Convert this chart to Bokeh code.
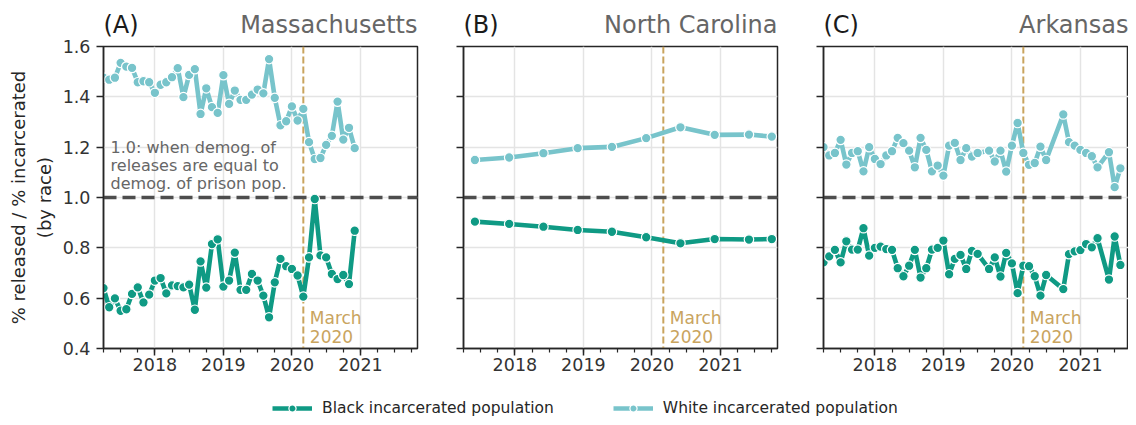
import numpy as np
import pandas as pd
from bokeh.plotting import figure
from bokeh.models import (Range1d, FixedTicker, Span, Label, Legend, LegendItem,
                          PrintfTickFormatter, CustomJSTickFormatter)
from bokeh.layouts import column, row
from bokeh.embed import file_html
from bokeh.resources import INLINE

FONT = "DejaVu Sans"
COL_BLACK = "#0f9a84"
COL_WHITE = "#78c4cb"
COL_TAN = "#c9a45e"
COL_REF = "#4d4d4d"
COL_AX = "#262626"

# ---------------- data ----------------
x_tick_years = [2018, 2019, 2020, 2021]
y_ticks = [0.4, 0.6, 0.8, 1.0, 1.2, 1.4, 1.6]
x_start, x_end = "2017-04-01", "2021-11-01"
march_2020 = "2020-03-01"
series_names = ["Black incarcerated population", "White incarcerated population"]
panel_letters = ["(A)", "(B)", "(C)"]
states = ["Massachusetts", "North Carolina", "Arkansas"]
note_lines = ["1.0: when demog. of", "releases are equal to", "demog. of prison pop."]
march_lines = ["March", "2020"]

# Massachusetts (monthly, Apr 2017 - Dec 2020)
ma_months = pd.date_range("2017-04-01", "2020-12-01", freq="MS")
ma_white = [1.476, 1.468, 1.476, 1.535, 1.520, 1.515, 1.458, 1.462, 1.458, 1.416,
            1.448, 1.458, 1.478, 1.514, 1.399, 1.487, 1.510, 1.332, 1.434, 1.359,
            1.336, 1.486, 1.372, 1.425, 1.388, 1.388, 1.409, 1.429, 1.414, 1.550,
            1.396, 1.287, 1.303, 1.362, 1.306, 1.352, 1.220, 1.153, 1.157, 1.209,
            1.245, 1.381, 1.230, 1.277, 1.196]
ma_black = [0.640, 0.564, 0.599, 0.550, 0.556, 0.617, 0.643, 0.583, 0.614, 0.670,
            0.680, 0.619, 0.651, 0.648, 0.643, 0.654, 0.554, 0.746, 0.642, 0.815,
            0.834, 0.646, 0.670, 0.781, 0.633, 0.633, 0.696, 0.670, 0.610, 0.524,
            0.663, 0.756, 0.727, 0.716, 0.690, 0.606, 0.762, 0.994, 0.770, 0.762,
            0.696, 0.676, 0.692, 0.656, 0.868]

# North Carolina (semi-annual)
nc_months = ["2017-06-01", "2017-12-01", "2018-06-01", "2018-12-01", "2019-06-01",
             "2019-12-01", "2020-06-01", "2020-12-01", "2021-06-01", "2021-10-01"]
nc_white = [1.149, 1.159, 1.176, 1.196, 1.201, 1.236, 1.279, 1.249, 1.250, 1.242]
nc_black = [0.904, 0.895, 0.884, 0.871, 0.864, 0.842, 0.818, 0.835, 0.833, 0.835]

# Arkansas (monthly, Apr 2017 - Aug 2021, some months missing)
ar_months = pd.date_range("2017-04-01", "2021-08-01", freq="MS")
ar_white = [1.200, 1.167, 1.177, 1.229, 1.131, 1.177, 1.184, 1.104, 1.200, 1.153,
            1.133, 1.167, 1.184, 1.237, 1.216, 1.186, 1.120, 1.237, 1.189, 1.104,
            1.127, 1.087, 1.206, 1.217, 1.149, 1.196, 1.163, 1.177, None, 1.186,
            1.143, 1.186, 1.103, 1.206, 1.296, 1.177, 1.130, 1.137, 1.202, 1.149,
            None, None, 1.330, 1.220, 1.206, 1.189, 1.177, 1.164, 1.120, None,
            1.180, 1.041, 1.116]
ar_black = [0.742, 0.766, 0.792, 0.742, 0.826, 0.793, 0.793, 0.878, 0.769, 0.800,
            0.805, 0.795, 0.792, 0.719, 0.687, 0.729, 0.792, 0.682, 0.719, 0.793,
            0.800, 0.829, 0.695, 0.756, 0.772, 0.716, 0.788, 0.776, None, 0.716,
            0.762, 0.686, 0.780, 0.738, 0.620, 0.729, 0.727, 0.687, 0.610, 0.692,
            None, None, 0.636, 0.775, 0.786, 0.791, 0.815, 0.802, 0.838, None,
            0.674, 0.845, 0.732]


def frac_year(dates):
    d = pd.DatetimeIndex(pd.to_datetime(dates))
    return np.asarray(d.year, dtype=float) + (np.asarray(d.month, dtype=float) - 1) / 12.0


X0 = frac_year([x_start])[0]
X1 = frac_year([x_end])[0]
XM = frac_year([march_2020])[0]

TOTAL_W, TOTAL_H = 1128, 417
HEAD_H = 37
TOP, BOT, FRAME_H = 9, 34, 302
H = TOP + FRAME_H + BOT
LEG_H = TOTAL_H - HEAD_H - H
FRAME_W = 314
PX_PER_YEAR = FRAME_W / (X1 - X0)

# figure borders: A [103 | 314 | 23], B [23 | 314 | 23], C [23 | rest]
BORDERS = [(103, 23), (23, 23), (23, 0)]
fig_widths = [103 + FRAME_W + 23, 23 + FRAME_W + 23]
fig_widths.append(TOTAL_W - sum(fig_widths))
frame_widths = [FRAME_W, FRAME_W, fig_widths[2] - 23]


def make_panel(i, months, white, black):
    left, right = BORDERS[i]
    fw = frame_widths[i]
    x_hi = X0 + fw / PX_PER_YEAR
    x = frac_year(months)
    w = np.array([np.nan if v is None else v for v in white], dtype=float)
    b = np.array([np.nan if v is None else v for v in black], dtype=float)
    p = figure(width=fig_widths[i], height=H,
               x_range=Range1d(X0, x_hi), y_range=Range1d(0.4, 1.6),
               output_backend="svg", toolbar_location=None, tools="",
               min_border_left=left, min_border_right=right,
               min_border_top=TOP, min_border_bottom=BOT)
    p.background_fill_color = "white"
    p.border_fill_color = "white"
    p.outline_line_color = COL_AX
    p.outline_line_width = 1.5

    minor_q = list(np.arange(X0, x_hi + 1e-9, 0.25))
    p.xaxis.ticker = FixedTicker(ticks=x_tick_years, minor_ticks=minor_q)
    p.xaxis.formatter = PrintfTickFormatter(format="%d")
    p.yaxis.ticker = FixedTicker(ticks=y_ticks, minor_ticks=[])
    p.yaxis.formatter = PrintfTickFormatter(format="%.1f")
    for ax in (p.xaxis[0], p.yaxis[0]):
        ax.axis_line_color = COL_AX
        ax.axis_line_width = 1.5
        ax.major_tick_line_color = COL_AX
        ax.major_tick_line_width = 1.5
        ax.minor_tick_line_color = COL_AX
        ax.minor_tick_line_width = 1.2
        ax.major_tick_in = 0
        ax.major_tick_out = 7
        ax.minor_tick_in = 0
        ax.minor_tick_out = 4
        ax.major_label_text_font = FONT
        ax.major_label_text_font_size = "17.5px"
        ax.major_label_text_color = "#333333"
    p.xaxis.major_label_standoff = 2
    p.yaxis.major_label_standoff = 6
    if i == 0:
        p.yaxis.axis_label = "% released / % incarcerated\n(by race)"
        p.yaxis.axis_label_text_font = FONT
        p.yaxis.axis_label_text_font_size = "18px"
        p.yaxis.axis_label_text_font_style = "normal"
        p.yaxis.axis_label_text_color = COL_AX
        p.yaxis.axis_label_standoff = 5
    else:
        p.yaxis.formatter = CustomJSTickFormatter(code="return ''")

    for g in (p.xgrid[0], p.ygrid[0]):
        g.grid_line_color = "#e4e4e4"
        g.grid_line_width = 1.5

    p.add_layout(Span(location=XM, dimension="height", line_color=COL_TAN,
                      line_width=2, line_dash="7 3", level="underlay"))
    p.add_layout(Span(location=1.0, dimension="width", line_color=COL_REF,
                      line_width=3.3, line_dash="13 6", level="underlay"))

    for vals, col in ((b, COL_BLACK), (w, COL_WHITE)):
        m = ~np.isnan(vals)
        p.line(x[m], vals[m], line_color=col, line_width=4.6)
        p.scatter(x[m], vals[m], size=9.5, fill_color=col, line_color="white",
                  line_width=1.2)

    # March 2020 note
    for k, txt in enumerate(march_lines):
        p.add_layout(Label(x=XM + 0.095, y=[0.522, 0.448][k], text=txt,
                           text_font=FONT, text_font_size="17px",
                           text_color=COL_TAN, text_align="left",
                           text_baseline="middle"))
    if i == 0:
        for k, txt in enumerate(note_lines):
            p.add_layout(Label(x=X0 + 0.103, y=[1.1995, 1.128, 1.0545][k], text=txt,
                               text_font=FONT, text_font_size="16px",
                               text_color="#666666", text_align="left",
                               text_baseline="middle"))
    return p


pA = make_panel(0, ma_months, ma_white, ma_black)
pB = make_panel(1, nc_months, nc_white, nc_black)
pC = make_panel(2, ar_months, ar_white, ar_black)

# header strip with panel letters and state names (screen-like coordinates)
head = figure(width=TOTAL_W, height=HEAD_H, x_range=Range1d(0, TOTAL_W),
              y_range=Range1d(0, HEAD_H), output_backend="svg",
              toolbar_location=None, tools="",
              min_border_left=0, min_border_right=0, min_border_top=0,
              min_border_bottom=0, x_axis_location=None, y_axis_location=None)
head.grid.visible = False
head.outline_line_color = None
head.background_fill_color = "white"
head.border_fill_color = "white"
x_left = 0
for i in range(3):
    fl = x_left + BORDERS[i][0]
    fr = fl + frame_widths[i]
    head.add_layout(Label(x=fl, y=HEAD_H - 24, text=panel_letters[i], text_font=FONT,
                          text_font_size="24px", text_color="#1a1a1a",
                          text_align="left", text_baseline="middle"))
    head.add_layout(Label(x=fr, y=HEAD_H - 24, text=states[i], text_font=FONT,
                          text_font_size="24px", text_color="#666666",
                          text_align="right", text_baseline="middle"))
    x_left += fig_widths[i]

lg = figure(width=TOTAL_W, height=LEG_H, x_range=Range1d(0, 1), y_range=Range1d(0, 1),
            output_backend="svg", toolbar_location=None, tools="",
            min_border_left=0, min_border_right=0, min_border_top=0, min_border_bottom=0,
            x_axis_location=None, y_axis_location=None)
lg.grid.visible = False
lg.outline_line_color = None
lg.background_fill_color = "white"
lg.border_fill_color = "white"
items = []
for name, col in zip(series_names, (COL_BLACK, COL_WHITE)):
    r1 = lg.line(x=[5, 6], y=[5, 5], line_color=col, line_width=4.6)
    r2 = lg.scatter(x=[5], y=[5], size=9.5, fill_color=col, line_color="white",
                    line_width=1.2)
    items.append(LegendItem(label=name, renderers=[r1, r2]))
legend = Legend(items=items, orientation="horizontal", location=(272, 0),
                border_line_color=None, background_fill_alpha=0, padding=0, margin=0,
                spacing=59, label_standoff=10, glyph_width=40, glyph_height=18,
                label_height=18, label_text_font=FONT, label_text_font_size="15.5px",
                label_text_color=COL_AX)
lg.add_layout(legend)

layout = column(head, row(pA, pB, pC), lg)
open("out.html", "w").write(file_html(layout, INLINE))
